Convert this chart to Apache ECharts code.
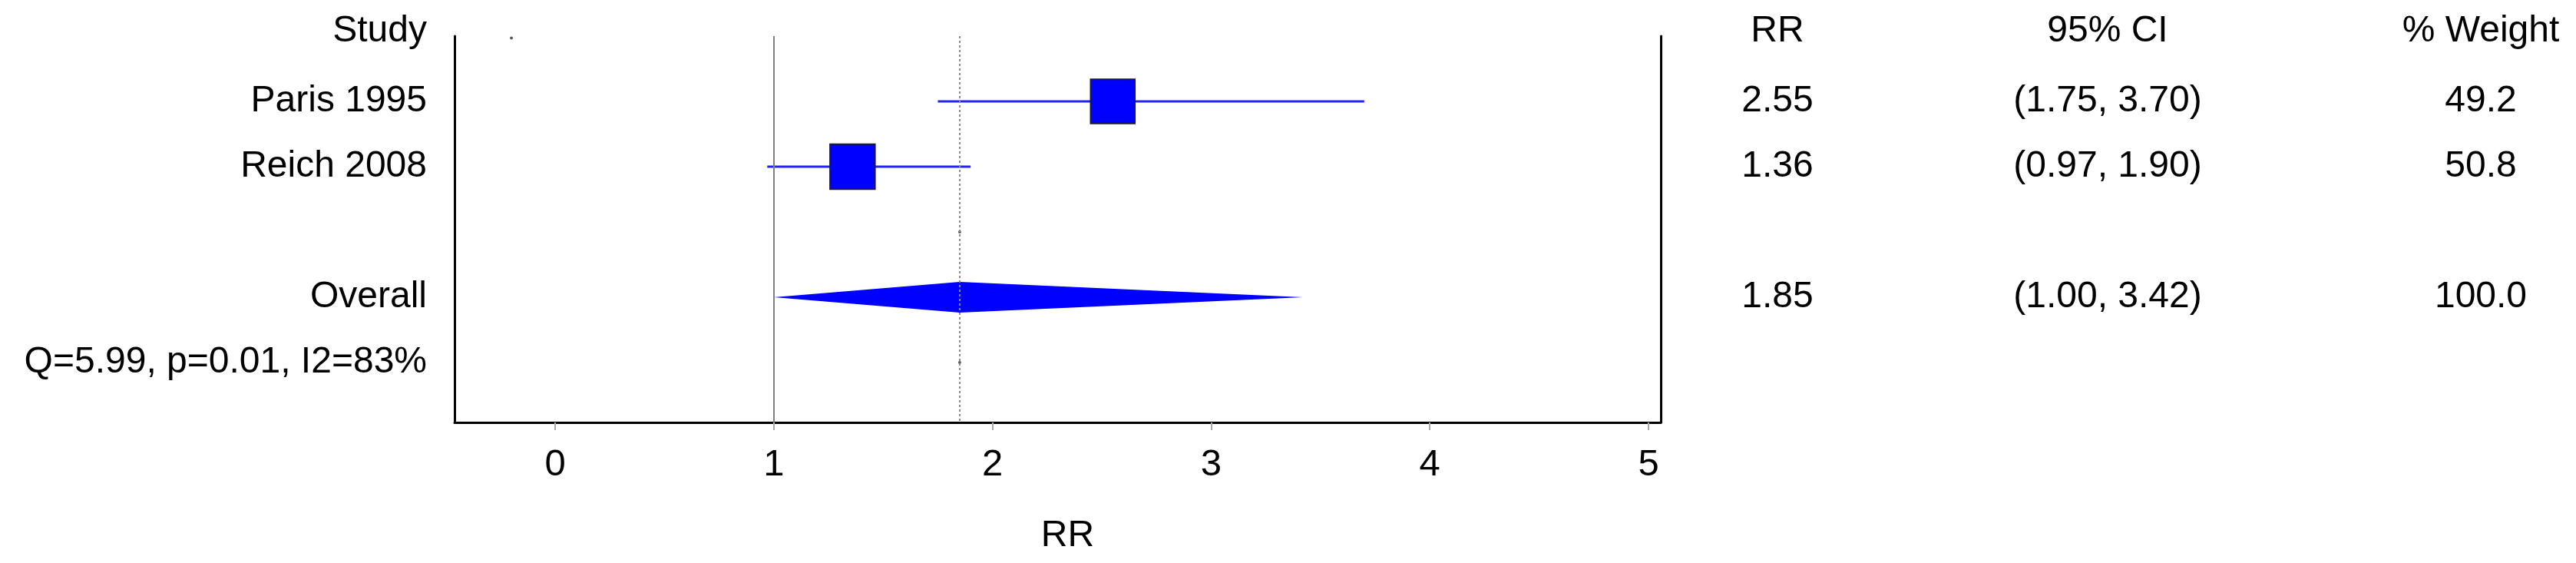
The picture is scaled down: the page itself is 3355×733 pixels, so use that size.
<!DOCTYPE html>
<html>
<head>
<meta charset="utf-8">
<script src="https://cdn.jsdelivr.net/npm/echarts@6/dist/echarts.min.js"></script>
<style>
  html, body { margin: 0; padding: 0; background: #fff; }
  #forest { width: 3355px; height: 733px; }
</style>
</head>
<body>
<div id="forest"></div>
<script>
// study rows
const studies = ['Paris 1995', 'Reich 2008'];
const rr = [2.55, 1.36];
const ciLow = [1.75, 0.97];
const ciHigh = [3.70, 1.90];
const weight = [49.2, 50.8];

// pooled estimate
const overallRR = 1.85;
const overallCI = [1.00, 3.42];
const overallWeight = 100.0;
const heterogeneity = 'Q=5.99, p=0.01, I2=83%';

const headers = ['Study', 'RR', '95% CI', '% Weight'];
const xTicks = [0, 1, 2, 3, 4, 5];
const nullValue = 1;
// tiny stray marks left by the original plot (empty rows)
const strayDots = [[-0.2, 0.03], [1.85, 3], [1.85, 5]];

// row index of each line of the table
const studyRows = [1, 2];
const overallRow = 4;
const hetRow = 5;

const font = '"Liberation Sans", Arial, sans-serif';
const fs = 48;

// text for each table column, keyed by row
const leftText = {0: headers[0], [overallRow]: 'Overall', [hetRow]: heterogeneity};
const rrText = {0: headers[1], [overallRow]: overallRR.toFixed(2)};
const ciText = {0: headers[2], [overallRow]: '(' + overallCI[0].toFixed(2) + ', ' + overallCI[1].toFixed(2) + ')'};
const wText = {0: headers[3], [overallRow]: overallWeight.toFixed(1)};
studies.forEach(function (s, i) {
    const r = studyRows[i];
    leftText[r] = s;
    rrText[r] = rr[i].toFixed(2);
    ciText[r] = '(' + ciLow[i].toFixed(2) + ', ' + ciHigh[i].toFixed(2) + ')';
    wText[r] = weight[i].toFixed(1);
});
const textRows = [0, 1, 2, overallRow, hetRow];

const yMin = 0, yMax = 5.918;

// header row sits a little higher than the plot top
function fmt(labels) {
    return function (v) {
        const t = labels[v] || '';
        return v === 0 ? '{h|' + t + '}' : t;
    };
}
const headRich = {h: {fontSize: fs, fontFamily: font, color: '#000', padding: [0, 0, 12, 0]}};

function colAxis(labels, margin, showLine) {
    return {
        type: 'value', inverse: true, min: yMin, max: yMax, position: 'right',
        axisLine: {show: showLine, onZero: false, lineStyle: {color: '#000', width: 3}},
        axisTick: {show: false},
        splitLine: {show: false},
        axisLabel: {
            customValues: textRows,
            formatter: fmt(labels),
            rich: headRich,
            align: 'center', margin: margin,
            fontSize: fs, fontFamily: font, color: '#000'
        }
    };
}

const studyData = rr.map(function (v, i) {
    return [v, ciLow[i], ciHigh[i], studyRows[i], weight[i]];
});

const option = {
    backgroundColor: '#fff',
    animation: false,
    grid: {left: 592, top: 47, width: 1571, height: 503},
    xAxis: {
        type: 'value', min: -0.46, max: 5.056,
        name: 'RR', nameLocation: 'middle', nameGap: 124,
        nameTextStyle: {fontSize: fs, fontFamily: font, color: '#000', padding: [0, 0, 0, 26]},
        axisLine: {show: true, onZero: false, lineStyle: {color: '#000', width: 3}},
        axisTick: {show: true, customValues: xTicks, length: 10, lineStyle: {color: '#aaa', width: 2}},
        axisLabel: {customValues: xTicks, margin: 31, fontSize: 49, fontFamily: font, color: '#000'},
        splitLine: {show: false}
    },
    yAxis: [
        {
            type: 'value', inverse: true, min: yMin, max: yMax,
            axisLine: {show: true, onZero: false, lineStyle: {color: '#000', width: 3}},
            axisTick: {show: false},
            splitLine: {show: false},
            axisLabel: {
                customValues: textRows,
                formatter: fmt(leftText),
                rich: headRich,
                margin: 36, fontSize: fs, fontFamily: font, color: '#000'
            }
        },
        colAxis(rrText, 152, true),
        colAxis(ciText, 582, false),
        colAxis(wText, 1068, false)
    ],
    series: [
        {
            type: 'scatter',
            data: strayDots,
            symbolSize: 4,
            itemStyle: {color: '#333'},
            silent: true,
            z: 1,
            markLine: {
                silent: true,
                symbol: 'none',
                label: {show: false},
                data: [
                    {xAxis: nullValue, lineStyle: {color: '#808080', width: 2, type: 'solid'}},
                    {xAxis: overallRR, lineStyle: {color: '#8a8a8a', width: 2, type: [3, 3]}}
                ]
            }
        },
        {
            type: 'custom',
            data: studyData,
            encode: {x: [0, 1, 2], y: 3},
            z: 3,
            renderItem: function (params, api) {
                const y = api.value(3);
                const a = api.coord([api.value(1), y]);
                const b = api.coord([api.value(2), y]);
                const c = api.coord([api.value(0), y]);
                const s = 58 * Math.sqrt(api.value(4) / 50);
                return {
                    type: 'group',
                    children: [
                        {type: 'line', shape: {x1: a[0], y1: a[1], x2: b[0], y2: b[1]},
                         style: {stroke: '#2222ff', lineWidth: 3}},
                        {type: 'rect', shape: {x: c[0] - s / 2, y: c[1] - s / 2, width: s, height: s},
                         style: {fill: '#0000ff', stroke: '#1a1a3a', lineWidth: 2}}
                    ]
                };
            }
        },
        {
            type: 'custom',
            data: [[overallRR, overallCI[0], overallCI[1], overallRow]],
            encode: {x: [0, 1, 2], y: 3},
            z: 2,
            renderItem: function (params, api) {
                const y = api.value(3);
                const a = api.coord([api.value(1), y]);
                const b = api.coord([api.value(2), y]);
                const c = api.coord([api.value(0), y]);
                const h = 20;
                return {
                    type: 'polygon',
                    shape: {points: [a, [c[0], c[1] - h], b, [c[0], c[1] + h]]},
                    style: {fill: '#0000ff'}
                };
            }
        }
    ]
};

const chart = echarts.init(document.getElementById('forest'));
chart.setOption(option);
</script>
</body>
</html>
